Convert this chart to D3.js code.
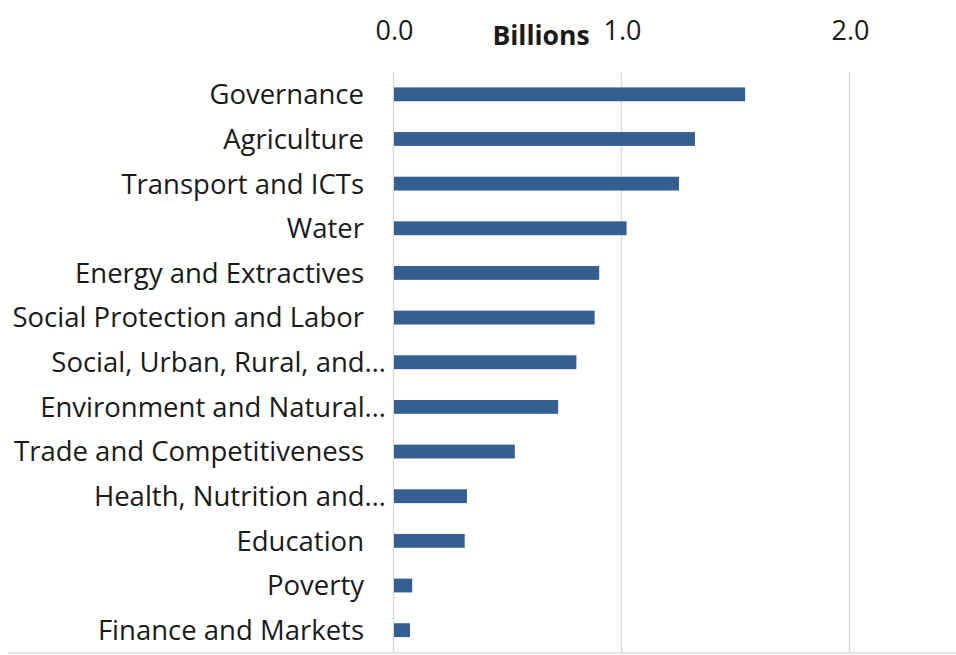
<!DOCTYPE html>
<html>
<head>
<meta charset="utf-8">
<script src="https://cdn.jsdelivr.net/npm/d3@7"></script>
<style>
  body { margin: 0; background: #fff; }
  svg { display: block; font-family: "Open Sans", sans-serif; }
</style>
</head>
<body>
<script>
// Data
let sectors = [
  "Governance", "Agriculture", "Transport and ICTs", "Water",
  "Energy and Extractives", "Social Protection and Labor",
  "Social, Urban, Rural, and\u2026", "Environment and Natural\u2026",
  "Trade and Competitiveness", "Health, Nutrition and\u2026",
  "Education", "Poverty", "Finance and Markets"
];
let amounts = [1.54, 1.32, 1.25, 1.02, 0.90, 0.88, 0.80, 0.72, 0.53, 0.32, 0.31, 0.08, 0.07];
let tickValues = [0, 1, 2];
let axisTitle = "Billions";

function drawChart() {
  let width = 956;
  let height = 655;

  let svg = d3.select("body")
    .append("svg")
    .attr("width", width)
    .attr("height", height);

  let x = d3.scaleLinear()
    .domain([0, 2.5])
    .range([394, 964]);

  let y = d3.scaleBand()
    .domain(sectors)
    .range([72, 652.5])
    .paddingInner(0.69)
    .paddingOuter(0.345);

  // gridlines (the 0 line too)
  svg.append("g")
    .selectAll("line")
    .data(tickValues)
    .enter()
    .append("line")
    .attr("x1", d => Math.round(x(d)) - 0.5)
    .attr("x2", d => Math.round(x(d)) - 0.5)
    .attr("y1", 72)
    .attr("y2", 652)
    .style("stroke", "#d9d9d9")
    .style("stroke-width", 1.5);

  // bottom border line
  svg.append("line")
    .attr("x1", 8)
    .attr("x2", width)
    .attr("y1", 653)
    .attr("y2", 653)
    .style("stroke", "#d9d9d9")
    .style("stroke-width", 1.5);

  // top axis labels
  let axis = d3.axisTop(x)
    .tickValues(tickValues)
    .tickFormat(d3.format(".1f"))
    .tickSize(0)
    .tickPadding(0);

  let gAxis = svg.append("g")
    .attr("transform", "translate(0,40)")
    .call(axis);
  gAxis.select(".domain").remove();
  gAxis.selectAll("text")
    .attr("dy", 0)
    .style("font-family", "'Open Sans', sans-serif")
    .style("font-size", "27px")
    .style("fill", "#1a1a1a");

  svg.append("text")
    .attr("x", 541)
    .attr("y", 45)
    .attr("text-anchor", "middle")
    .style("font-size", "26.5px")
    .style("font-weight", "bold")
    .style("fill", "#1a1a1a")
    .text(axisTitle);

  // bars
  svg.append("g")
    .selectAll("rect")
    .data(sectors)
    .enter()
    .append("rect")
    .attr("x", x(0))
    .attr("y", d => y(d))
    .attr("width", (d, i) => x(amounts[i]) - x(0))
    .attr("height", y.bandwidth())
    .style("fill", "#365f91");

  // category labels; Excel lets the cut-off ones run a bit further right
  svg.append("g")
    .selectAll("text")
    .data(sectors)
    .enter()
    .append("text")
    .attr("x", d => d.endsWith("\u2026") ? 386 : 364)
    .attr("y", d => y(d) + y.bandwidth() / 2)
    .attr("dy", "0.36em")
    .attr("text-anchor", "end")
    .style("font-size", "27.5px")
    .style("fill", "#1a1a1a")
    .text(d => d);
}

drawChart();
</script>
</body>
</html>
